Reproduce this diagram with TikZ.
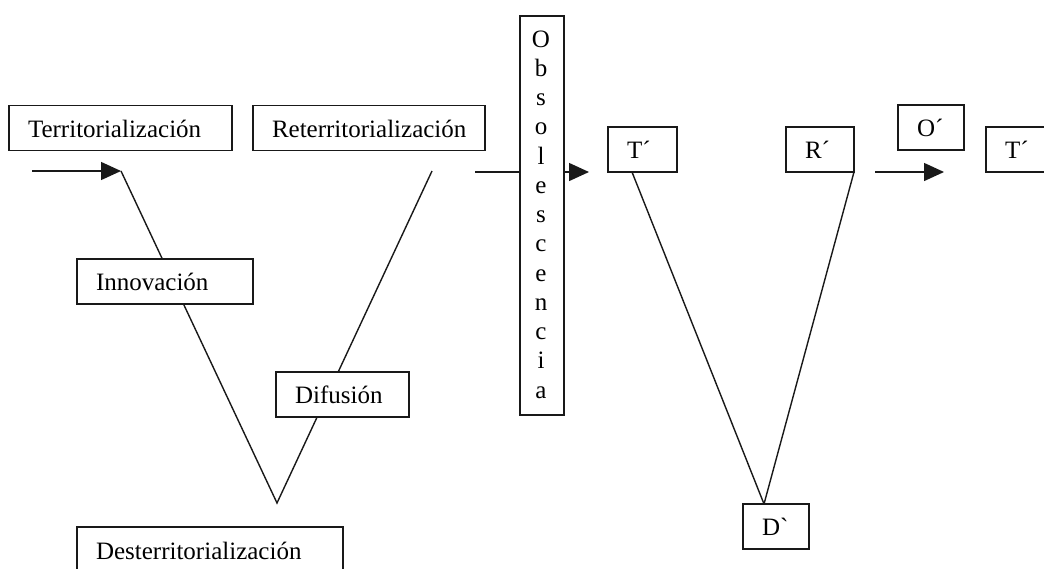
\documentclass[tikz,border=0pt]{standalone}
\usepackage{fontspec}
\setmainfont{Liberation Serif}
\usetikzlibrary{arrows.meta}
\begin{document}
\begin{tikzpicture}[x=1pt,y=-1pt,
  lbox/.style={draw=black!90, line width=1.4pt, fill=white, inner xsep=19pt, inner ysep=0pt,
    align=left, text height=18pt, text depth=0pt, minimum height=45pt,
    font=\fontsize{25}{29}\selectfont},
  conn/.style={draw=black!90, line width=1.4pt},
  arr/.style={conn, -{Triangle[length=20pt,width=18pt]}},
  letter/.style={anchor=base, inner sep=0pt, font=\fontsize{25}{29}\selectfont}
]
\useasboundingbox[fill=white] (0,0) rectangle (1044,568);

% coordinates for connectors
\coordinate (a1s) at (32,171);
\coordinate (vLtop) at (121,171);
\coordinate (vRtop) at (432,171);
\coordinate (vbot) at (277,503);
\coordinate (a2s) at (475,172);
\coordinate (a2e) at (589,172);
\coordinate (a3s) at (875,172);
\coordinate (a3e) at (944,172);
\coordinate (t1b) at (632,172);
\coordinate (r1b) at (854,172);
\coordinate (dtop) at (764,504);

% connectors (drawn below the boxes)
\draw[arr] (a1s) -- (vLtop);
\draw[conn] (vLtop) -- (vbot) -- (vRtop);
\draw[arr] (a2s) -- (a2e);
\draw[arr] (a3s) -- (a3e);
\draw[conn] (t1b) -- (dtop) -- (r1b);

% boxes
\node[lbox, text width=185pt] (terr) at (120.5,128) {Territorialización};
\node[lbox, text width=194pt] (reterr) at (369,128) {Reterritorialización};
\node[lbox, text width=138pt] (innov) at (165,281.5) {Innovación};
\node[lbox, text width=95pt] (difus) at (342.5,394.5) {Difusión};
\node[lbox, text width=228pt, minimum height=46pt] (dester) at (210,550) {Desterritorialización};
\node[lbox, text width=31pt] (t1) at (642.5,149.5) {T´};
\node[lbox, text width=30pt] (r1) at (820,149.5) {R´};
\node[lbox, text width=28pt] (o1) at (931,127.5) {O´};
\node[lbox, text width=31pt] (t2) at (1020.5,149.5) {T´};
\node[lbox, text width=28pt] (d1) at (776,526.5) {D\textasciigrave};

% Obsolescencia vertical box
\node[draw=black!90, line width=1.4pt, fill=white, minimum width=44pt, minimum height=399pt, inner sep=0pt] (obs) at (542,215.5) {};
\foreach \l [count=\i] in {O,b,s,o,l,e,s,c,e,n,c,i,a}
  \node[letter] (obs\i) at (541,{47+29.25*(\i-1)}) {\l};
\end{tikzpicture}
\end{document}
